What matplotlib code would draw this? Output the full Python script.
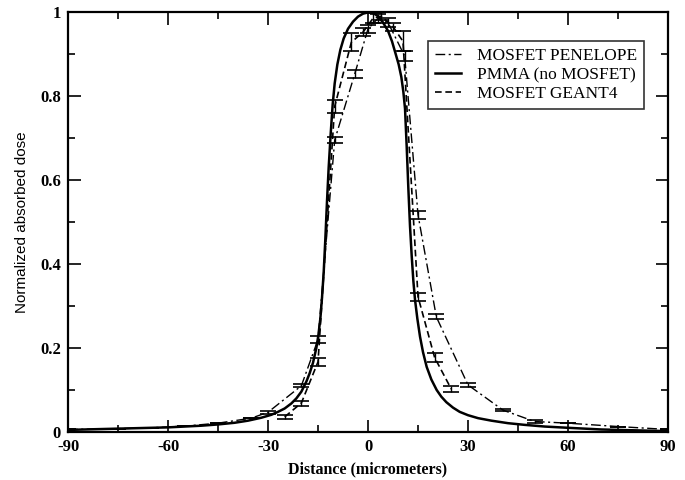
import matplotlib
matplotlib.use("Agg")
import matplotlib.pyplot as plt
from matplotlib.ticker import MultipleLocator, FixedLocator
from matplotlib.lines import Line2D

plt.rcParams["axes.unicode_minus"] = False

# PMMA (no MOSFET) - solid smooth curve
pmma_x = [-90, -80, -70, -60, -50, -45, -40, -36, -32, -29, -27, -25, -23, -21.5, -20,
          -18.5, -17.5, -16.5, -15.5, -14.9, -14.3, -13.8, -13.3, -12.8, -12.3, -11.8,
          -11.2, -10.6, -10, -9.2, -8.3, -7.3, -6, -4.5, -3, -1.5, 0, 1.5, 3, 4.5, 6,
          7.2, 8.3, 9.2, 10, 10.6, 11.1, 11.6, 12.1, 12.6, 13.1, 13.6, 14.1, 14.8, 15.6,
          16.5, 17.6, 19, 20.6, 22, 23.5, 25.5, 27.5, 30, 33, 37, 42, 47, 53, 60, 70,
          80, 90]
pmma_y = [0.005, 0.007, 0.009, 0.011, 0.015, 0.018, 0.022, 0.027, 0.034, 0.041, 0.048,
          0.056, 0.068, 0.080, 0.096, 0.120, 0.140, 0.165, 0.200, 0.230, 0.270, 0.320,
          0.380, 0.460, 0.550, 0.630, 0.710, 0.780, 0.830, 0.875, 0.910, 0.937, 0.960,
          0.977, 0.989, 0.996, 0.999, 0.998, 0.990, 0.975, 0.955, 0.930, 0.900, 0.875,
          0.845, 0.810, 0.770, 0.680, 0.580, 0.490, 0.420, 0.360, 0.315, 0.270, 0.227,
          0.190, 0.155, 0.125, 0.100, 0.084, 0.071, 0.058, 0.048, 0.040, 0.033, 0.027,
          0.021, 0.017, 0.013, 0.010, 0.006, 0.004, 0.002]

# MOSFET PENELOPE - dash-dot with error bars
pen_x = [-90, -75, -65, -55, -45, -35, -30, -20, -15, -10, -4, 0, 3, 6, 11, 15, 20.5,
         30, 40.5, 50, 60, 75, 90]
pen_y = [0.006, 0.008, 0.010, 0.014, 0.021, 0.033, 0.047, 0.110, 0.220, 0.695, 0.852,
         0.960, 0.985, 0.975, 0.895, 0.517, 0.274, 0.112, 0.052, 0.025, 0.021, 0.013, 0.006]
pen_err = [0.0, 0.0, 0.0, 0.0, 0.0, 0.0, 0.003, 0.004, 0.008, 0.008, 0.009, 0.010,
           0.010, 0.010, 0.012, 0.010, 0.006, 0.004, 0.003, 0.003, 0.0, 0.0, 0.0]

# MOSFET GEANT4 - dashed with error bars
g4_x = [-25, -20, -15, -10, -5, -1.5, 1.5, 4, 7.5, 10.5, 15, 20, 25]
g4_y = [0.036, 0.069, 0.167, 0.775, 0.928, 0.952, 0.985, 0.99, 0.965, 0.93, 0.322,
        0.177, 0.102]
g4_err = [0.005, 0.006, 0.010, 0.015, 0.022, 0.010, 0.012, 0.010, 0.010, 0.024, 0.009,
          0.010, 0.007]

legend_labels = ["MOSFET PENELOPE", "PMMA (no MOSFET)", "MOSFET GEANT4"]
x_ticks = [-90, -60, -30, 0, 30, 60, 90]
y_ticks = [0, 0.2, 0.4, 0.6, 0.8, 1]
y_tick_labels = ["0", "0.2", "0.4", "0.6", "0.8", "1"]

fig = plt.figure(figsize=(6.85, 4.8), dpi=100)
ax = fig.add_axes([0.0993, 0.1, 0.8759, 0.875])

dashdot = (0, (7, 2.5, 1.5, 2.5))
dashed = (0, (4, 2.2))

ax.errorbar(pen_x, pen_y, yerr=pen_err, color="black", linestyle=dashdot, linewidth=1.0,
            elinewidth=1.0, capsize=6, capthick=1.2)
ax.plot(pmma_x, pmma_y, color="black", linestyle="-", linewidth=1.8)
ax.errorbar(g4_x, g4_y, yerr=g4_err, color="black", linestyle=dashed, linewidth=1.2,
            elinewidth=1.0, capsize=6, capthick=1.2)

ax.set_xlim(-90, 90)
ax.set_ylim(0, 1)
ax.xaxis.set_major_locator(FixedLocator(x_ticks))
ax.xaxis.set_minor_locator(MultipleLocator(15))
ax.yaxis.set_major_locator(FixedLocator(y_ticks))
ax.set_yticklabels(y_tick_labels)
ax.yaxis.set_minor_locator(MultipleLocator(0.1))

ax.tick_params(which="both", direction="in", top=True, right=True, width=1.2)
ax.tick_params(which="major", length=9, labelsize=12)
ax.tick_params(axis="x", which="major", pad=5)
ax.tick_params(axis="y", which="major", pad=5)
ax.tick_params(which="minor", length=5)
for lab in ax.get_xticklabels() + ax.get_yticklabels():
    lab.set_fontfamily("Liberation Serif")
    lab.set_fontweight("bold")
for sp in ax.spines.values():
    sp.set_linewidth(1.6)

ax.set_xlabel("Distance (micrometers)", fontfamily="Liberation Serif", fontweight="bold",
              fontsize=11.5, labelpad=5)
ax.set_ylabel("Normalized absorbed dose", fontfamily="Liberation Sans", fontsize=11,
              labelpad=8)

handles = [
    Line2D([], [], color="black", linestyle=dashdot, linewidth=1.0),
    Line2D([], [], color="black", linestyle="-", linewidth=1.8),
    Line2D([], [], color="black", linestyle=dashed, linewidth=1.2),
]
leg = ax.legend(handles, legend_labels, loc="upper left", bbox_to_anchor=(0.6, 0.93),
                prop={"family": "Liberation Serif", "size": 12.5}, frameon=True,
                fancybox=False, edgecolor="black", handlelength=1.5, borderpad=0.4,
                labelspacing=0.15, handletextpad=0.9, borderaxespad=0)
leg.get_frame().set_linewidth(1.2)

fig.savefig("out.png", dpi=100)
